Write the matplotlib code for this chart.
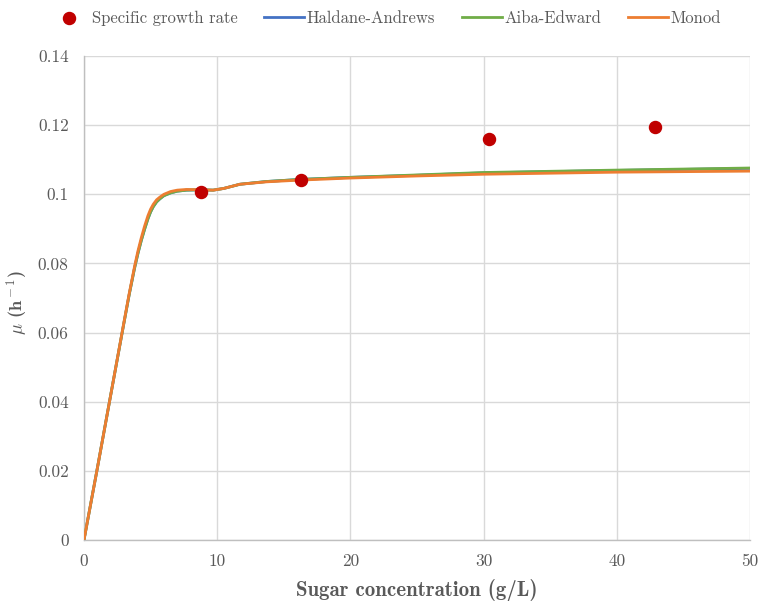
import matplotlib
matplotlib.use('Agg')
import matplotlib.pyplot as plt
from matplotlib.ticker import FuncFormatter, MultipleLocator

plt.rcParams['font.family'] = ['cmr10', 'DejaVu Serif']
plt.rcParams['mathtext.fontset'] = 'cm'
plt.rcParams['axes.formatter.use_mathtext'] = True

# measured specific growth rates
sugar = [8.8, 16.3, 30.4, 42.9]
mu_obs = [0.1008, 0.1042, 0.1161, 0.1195]

# model curves (g/L -> 1/h)
s_model = [0, 1, 2, 3, 3.4, 3.8, 4.05, 4.3, 4.55, 4.8, 5.0, 5.2, 5.45, 5.7,
           6.0, 6.5, 7.0, 7.7, 8.7, 9.7, 10.5, 11.7, 13.7, 16.2, 20, 25, 30,
           40, 50]
mu_monod = [0, 0.0207, 0.0418, 0.0630, 0.0714, 0.0792, 0.0836, 0.0874,
            0.0908, 0.0938, 0.0957, 0.0971, 0.0984, 0.0992, 0.1000, 0.1008,
            0.1012, 0.1014, 0.1013, 0.1012, 0.1017, 0.1029, 0.1036, 0.1041,
            0.1047, 0.1053, 0.1058, 0.1064, 0.1067]
mu_aiba = [0, 0.0207, 0.0418, 0.0628, 0.0711, 0.0787, 0.0829, 0.0866,
           0.0899, 0.0929, 0.0949, 0.0964, 0.0978, 0.0987, 0.0996, 0.1004,
           0.1009, 0.1012, 0.1013, 0.1012, 0.1017, 0.1029, 0.1037, 0.1043,
           0.1049, 0.1056, 0.1063, 0.1070, 0.1076]
mu_haldane = [0, 0.0207, 0.0418, 0.0628, 0.0711, 0.0787, 0.0829, 0.0866,
              0.0899, 0.0929, 0.0949, 0.0964, 0.0978, 0.0987, 0.0996, 0.1004,
              0.1009, 0.1012, 0.1013, 0.1012, 0.1017, 0.1029, 0.1037, 0.1043,
              0.1049, 0.1055, 0.1062, 0.1069, 0.1075]

fig = plt.figure(figsize=(7.58, 6.01), dpi=100)
ax = fig.add_axes([0.1108, 0.1015, 0.8786, 0.8053])

ax.scatter(sugar, mu_obs, s=75, color='#C00000', zorder=5, label='Specific growth rate')
ax.plot(s_model, mu_haldane, color='#4472C4', lw=2.0, label='Haldane-Andrews', zorder=2)
ax.plot(s_model, mu_aiba, color='#70AD47', lw=2.0, label='Aiba-Edward', zorder=3)
ax.plot(s_model, mu_monod, color='#ED7D31', lw=2.0, label='Monod', zorder=4)

ax.set_xlim(0, 50)
ax.set_ylim(0, 0.14)
ax.xaxis.set_major_locator(MultipleLocator(10))
ax.yaxis.set_major_locator(MultipleLocator(0.02))
ax.yaxis.set_major_formatter(FuncFormatter(lambda v, p: '%g' % round(v, 4)))
ax.xaxis.set_major_formatter(FuncFormatter(lambda v, p: '%g' % v))

ax.grid(True, color='#d9d9d9', lw=1.0)
ax.set_axisbelow(True)
for side in ['top', 'right']:
    ax.spines[side].set_visible(False)
for side in ['left', 'bottom']:
    ax.spines[side].set_color('#bfbfbf')
    ax.spines[side].set_linewidth(1.0)
ax.tick_params(length=0, labelsize=12.5, labelcolor='#595959')
ax.tick_params(axis='y', pad=11)
ax.tick_params(axis='x', pad=10)

ax.set_xlabel('Sugar concentration (g/L)', fontsize=15, color='#595959',
              family='cmb10', labelpad=7)
ax.set_ylabel(r'$\mu$ (h$^{\rm -1}$)', fontsize=13.2, color='#595959',
              family='cmb10')
ax.yaxis.set_label_coords(-0.082, 0.49)

fig.legend(loc='upper center', bbox_to_anchor=(0.508, 1.008), ncol=4,
           frameon=False, fontsize=12, handlelength=2.4, handletextpad=0.15,
           columnspacing=1.6, labelcolor='#595959')

fig.savefig('out.png', dpi=100)
